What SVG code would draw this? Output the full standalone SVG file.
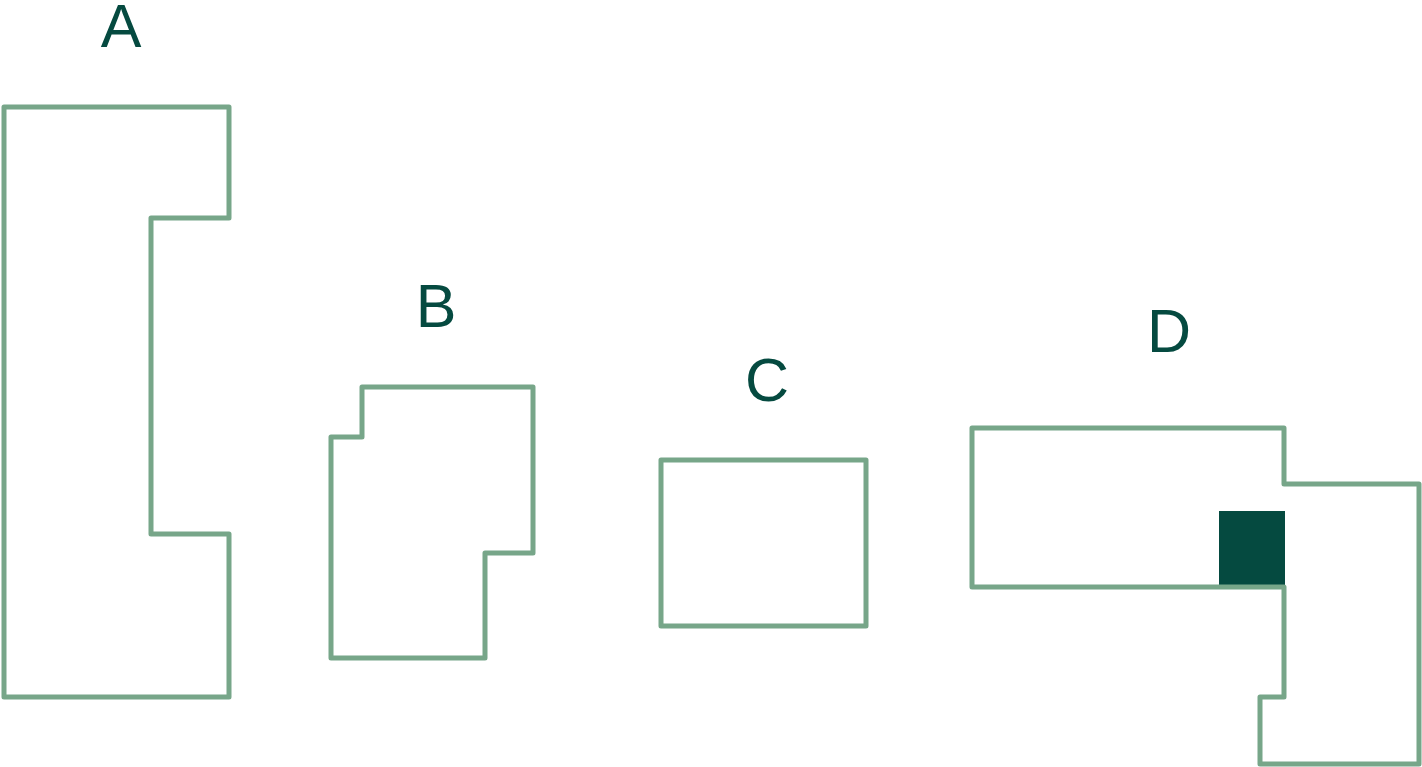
<svg xmlns="http://www.w3.org/2000/svg" width="1422" height="767" viewBox="0 0 1422 767">
<style>
.outline{fill:none;stroke:#77A689;stroke-width:5;stroke-linejoin:round}
.lbl{font-family:"Liberation Sans",Arial,sans-serif;font-size:61px;fill:#054A40;text-anchor:middle}
</style>
<rect width="1422" height="767" fill="#FFFFFF"/>
<g id="node-A">
<path class="outline" d="M4,107 H229 V218 H151 V534 H229 V697 H4 Z"/>
<text class="lbl" x="121" y="47">A</text>
</g>
<g id="node-B">
<path class="outline" d="M362,387 H533 V553 H485 V658 H331 V437 H362 Z"/>
<text class="lbl" x="436" y="327">B</text>
</g>
<g id="node-C">
<rect class="outline" x="661" y="460" width="205" height="166"/>
<text class="lbl" x="767" y="401">C</text>
</g>
<g id="node-D">
<rect x="1219" y="511" width="66" height="75" fill="#054A40"/>
<path class="outline" d="M972,428 H1284 V484 H1419 V764 H1260 V697 H1284 V587 H972 Z"/>
<text class="lbl" x="1169" y="352">D</text>
</g>
<g id="connectors"></g>
</svg>
